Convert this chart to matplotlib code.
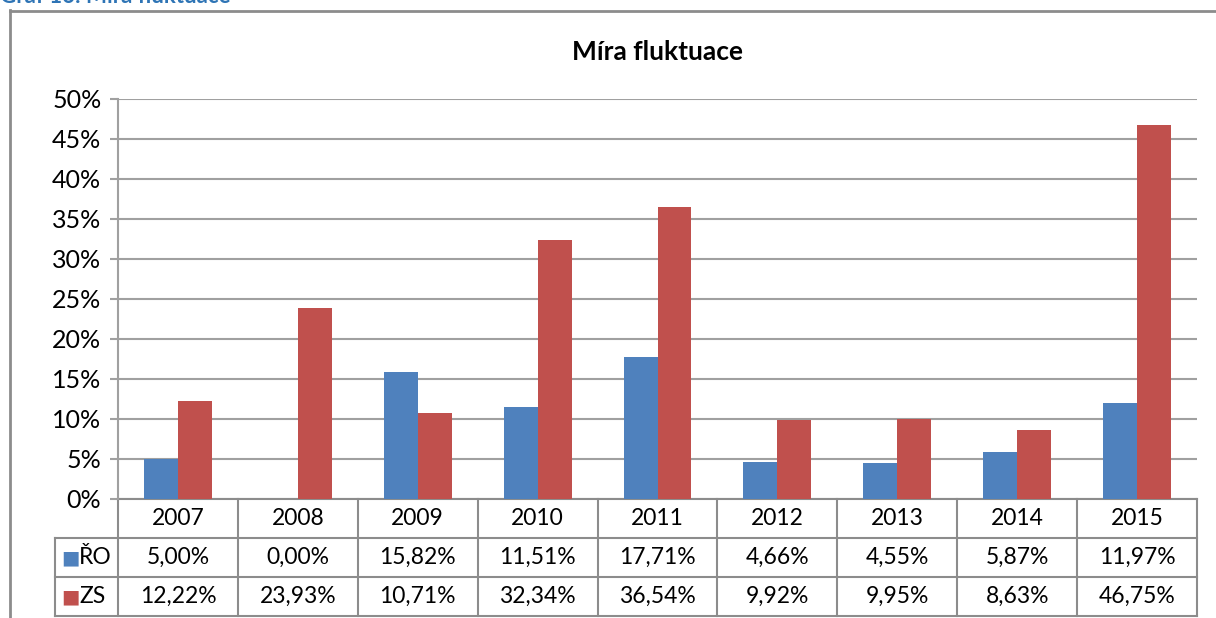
import matplotlib.pyplot as plt
from matplotlib.lines import Line2D
from matplotlib.transforms import blended_transform_factory

years = ["2007", "2008", "2009", "2010", "2011", "2012", "2013", "2014", "2015"]
ro = [5.00, 0.00, 15.82, 11.51, 17.71, 4.66, 4.55, 5.87, 11.97]
zs = [12.22, 23.93, 10.71, 32.34, 36.54, 9.92, 9.95, 8.63, 46.75]
series_names = ["ŘO", "ZS"]
yticks = [0, 5, 10, 15, 20, 25, 30, 35, 40, 45, 50]

blue = "#4F81BD"
red = "#C0504D"
grid_c = "#A0A0A0"
line_c = "#8C8C8C"

plt.rcParams["font.family"] = ["Lato", "DejaVu Sans"]

W, H = 1216, 618
fig = plt.figure(figsize=(W / 100, H / 100), dpi=100)

# plot area in pixels
left, right, top, bottom = 118, 1197, 99, 499
ax = fig.add_axes([left / W, 1 - bottom / H, (right - left) / W, (bottom - top) / H])

x = list(range(len(years)))
w = 0.283
ax.bar([i - w / 2 for i in x], ro, width=w, color=blue, zorder=3)
ax.bar([i + w / 2 for i in x], zs, width=w, color=red, zorder=3)

ax.set_xlim(-0.5, len(years) - 0.5)
ax.set_ylim(0, 50)
ax.set_yticks(yticks)
ax.set_yticklabels([f"{t}%" for t in yticks], fontsize=18)
ax.set_xticks([])
ax.yaxis.grid(True, color=grid_c, linewidth=1.5, zorder=0)
for s in ["top", "right", "bottom"]:
    ax.spines[s].set_visible(False)
ax.spines["left"].set_color(grid_c)
ax.spines["left"].set_linewidth(1.5)
ax.tick_params(axis="y", length=6, width=1.5, color=grid_c, pad=6)

ax.set_title("Míra fluktuace", fontsize=19, fontweight="bold", pad=28)

# data table below the plot
trans = blended_transform_factory(ax.transData, ax.transAxes)
row_h = 39 / (bottom - top)
legend_x = -0.5 - 63 / ((right - left) / len(years))
lw = 1.5
n = len(years)
tfs = 16.5

def hline(x0, x1, y):
    ax.add_line(Line2D([x0, x1], [y, y], transform=trans, color=line_c, lw=lw, clip_on=False))

def vline(xv, y0, y1):
    ax.add_line(Line2D([xv, xv], [y0, y1], transform=trans, color=line_c, lw=lw, clip_on=False))

hline(-0.5, n - 0.5, 0)
for r in range(1, 4):
    hline(legend_x, n - 0.5, -r * row_h)
for b in range(n + 1):
    vline(b - 0.5, 0, -3 * row_h)
vline(legend_x, -row_h, -3 * row_h)

for i, yr in enumerate(years):
    ax.text(i, -0.5 * row_h, yr, transform=trans, ha="center", va="center", fontsize=tfs)
    ax.text(i, -1.5 * row_h, f"{ro[i]:.2f}%".replace(".", ","), transform=trans,
            ha="center", va="center", fontsize=tfs)
    ax.text(i, -2.5 * row_h, f"{zs[i]:.2f}%".replace(".", ","), transform=trans,
            ha="center", va="center", fontsize=tfs)

for k, (name, col) in enumerate(zip(series_names, [blue, red])):
    yc = -(1.5 + k) * row_h
    ax.text(legend_x + 0.055, yc, "\u25A0", transform=trans, ha="left", va="center",
            fontsize=14, color=col, family="DejaVu Sans")
    ax.text(legend_x + 0.2, yc, name, transform=trans, ha="left", va="center", fontsize=tfs)

# outer chart frame
fig.add_artist(Line2D([10 / W, 1215 / W], [1 - 10.5 / H, 1 - 10.5 / H], transform=fig.transFigure,
                      color=line_c, lw=2))
fig.add_artist(Line2D([10 / W, 10 / W], [1 - 10 / H, 0], transform=fig.transFigure,
                      color=line_c, lw=2))

# cut-off caption above the chart
fig.text(0.0, 1 - 3 / H, "Graf 16: Míra fluktuace", fontsize=16, fontweight="bold",
         color="#2E74B5", ha="left", va="baseline")

fig.savefig("out.png", dpi=100)
